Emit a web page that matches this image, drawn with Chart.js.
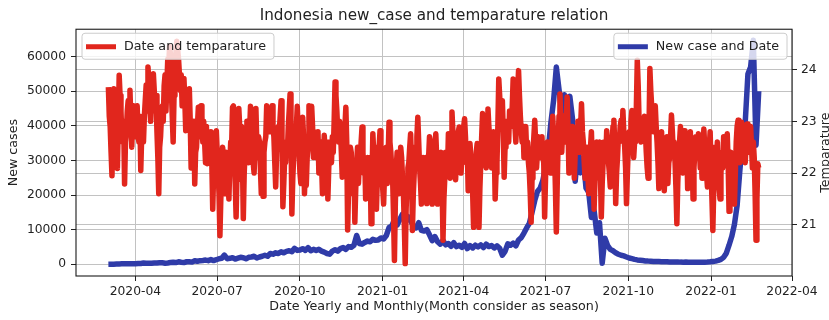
<!DOCTYPE html>
<html>
<head>
<meta charset="utf-8">
<script src="https://cdn.jsdelivr.net/npm/chart.js@4/dist/chart.umd.min.js"></script>
<style>
html,body{margin:0;padding:0;background:#ffffff;}
#wrap{width:829px;height:320px;position:relative;}
canvas{display:block;}
</style>
</head>
<body>
<div id="wrap"><canvas id="chart" width="829" height="320"></canvas></div>
<script>
// ---------------- data ----------------
const titleText = 'Indonesia new_case and temparature relation';
const xAxisTitle = 'Date Yearly and Monthly(Month consider as season)';
const yAxisTitle = 'New cases';
const y1AxisTitle = 'Temparature';
const seriesNames = ['Date and temparature', 'New case and Date'];

// first sample date of both series, and their spacing in days
const firstDate = '2020-03-02';
const tempStepDays = 1;
const caseStepDays = 3;

// daily temperature (right axis) from 2020-03-02
const temperature = [
  23.66,23.1,22.9,22.4,21.95,22.8,23.63,23.2,22.7,23.1,22.09,22.9,23.89,23.5,23.2,22.7,22.6,23.0,21.79,22.6,
  22.8,23.2,23.4,22.9,23.6,23.0,22.5,23.1,23.3,22.8,22.7,23.2,23.3,22.7,22.6,23.1,22.05,22.7,23.0,22.6,
  23.1,23.4,23.7,23.2,24.05,23.8,23.3,23.0,23.6,23.2,23.92,23.6,23.2,23.5,22.8,22.3,21.6,22.5,22.7,23.1,
  23.3,23.0,23.69,23.9,23.2,23.7,24.2,24.0,24.45,24.3,23.6,23.1,22.6,23.5,24.1,24.3,24.55,24.4,24.2,23.9,
  23.6,23.9,23.3,23.6,23.83,23.4,22.82,23.2,23.4,22.9,23.63,23.0,22.1,22.8,22.6,23.0,21.79,22.4,22.5,22.9,
  23.27,22.8,22.7,23.3,23.1,22.6,23.0,22.6,22.2,22.9,22.18,22.6,22.7,22.4,22.8,22.2,21.3,22.0,22.2,22.6,
  22.82,22.4,22.0,21.6,20.79,21.5,21.9,22.5,22.3,21.9,21.6,22.4,22.2,21.8,21.5,22.2,22.6,22.5,23.27,23.3,
  22.4,21.8,21.15,22.0,21.87,23.25,22.9,22.1,22.9,22.3,21.12,22.0,22.4,22.7,23.0,22.5,22.2,22.8,23.29,23.1,
  22.5,22.2,22.0,22.6,23.25,22.6,22.3,22.7,22.6,22.1,21.6,22.2,21.55,22.4,22.6,22.7,23.3,22.9,23.25,22.8,
  23.21,22.8,23.3,22.9,22.7,22.2,21.73,22.4,22.5,22.9,22.8,23.1,23.4,22.7,21.35,21.8,22.3,22.2,22.6,22.4,
  22.9,23.2,23.53,22.9,21.21,21.9,22.3,22.8,22.5,22.9,23.29,22.8,22.4,22.0,21.8,22.5,23.08,22.7,21.6,22.1,
  21.76,22.3,22.5,23.3,22.9,22.5,23.29,22.9,22.3,22.8,22.7,22.3,22.4,22.8,22.0,22.5,22.6,22.2,21.6,22.3,
  22.73,22.4,22.2,22.6,21.5,22.1,22.6,22.3,22.2,22.7,22.4,23.0,23.76,23.5,23.2,22.8,22.6,23.0,22.8,22.4,
  21.92,22.3,22.5,22.9,23.27,22.6,20.9,21.7,22.1,22.5,22.4,21.9,21.6,22.2,21.05,21.7,22.18,22.5,21.8,22.2,
  22.3,22.6,22.89,22.4,22.0,22.3,21.5,22.1,22.3,21.9,21.8,22.3,21.02,21.8,22.76,22.4,22.0,22.5,21.3,21.9,
  22.2,22.5,22.82,22.3,22.0,21.7,21.4,22.0,22.1,22.5,21.8,22.3,22.98,22.6,22.4,22.1,21.9,21.2,20.31,21.4,
  22.1,22.4,21.6,22.0,21.9,22.5,22.3,21.9,21.6,21.0,20.25,21.3,21.8,22.1,22.2,22.5,22.76,22.2,20.89,21.6,
  22.0,22.5,22.3,22.7,23.08,22.6,22.1,21.8,21.4,22.0,22.3,22.0,21.9,22.3,21.41,22.0,22.3,22.7,22.6,22.1,
  21.4,21.9,22.2,22.5,22.76,22.3,21.4,21.9,22.0,22.3,22.4,21.8,20.7,21.5,21.9,22.4,22.3,22.0,22.76,22.4,
  21.9,22.5,23.18,22.8,22.4,22.0,21.87,22.3,22.5,22.8,22.89,22.4,22.0,22.3,22.6,22.9,23.05,22.7,22.2,22.5,
  21.66,22.2,22.57,22.3,22.0,21.6,20.95,21.8,22.1,22.4,22.57,22.0,20.95,21.7,22.2,22.7,23.15,22.9,22.6,22.3,
  22.1,22.6,23.24,22.9,22.6,22.3,22.1,22.6,22.8,22.5,21.5,22.0,22.2,22.9,23.82,23.5,23.1,23.3,23.4,22.8,
  21.92,22.5,22.6,23.0,22.9,22.6,23.2,22.9,23.0,23.3,23.82,23.4,22.9,22.6,23.3,23.6,23.98,23.5,23.1,22.8,
  22.6,22.9,22.3,22.7,22.9,22.4,22.6,22.2,22.0,21.6,21.05,21.9,22.4,22.7,23.02,22.6,22.1,22.4,22.7,22.3,
  22.3,22.6,22.7,22.3,22.2,21.15,21.9,22.4,22.6,22.2,22.2,22.6,22.0,22.5,23.1,22.7,22.4,21.7,20.86,21.8,
  22.6,23.1,23.53,23.0,22.4,22.8,23.1,22.7,22.6,23.0,23.47,22.9,22.0,22.4,22.6,22.9,22.9,22.5,21.9,22.4,
  22.7,22.4,23.0,22.6,22.4,22.9,23.34,22.8,22.6,22.2,21.9,22.4,22.5,22.0,21.6,22.2,22.5,22.8,22.2,21.8,
  21.3,21.9,22.3,22.6,22.0,22.4,22.6,22.0,21.15,21.8,22.2,22.6,22.5,22.3,22.82,22.5,22.2,22.0,21.73,22.3,
  22.6,22.9,23.02,22.5,21.41,22.0,22.3,22.7,22.6,22.9,23.02,22.7,23.21,22.8,22.5,22.1,21.41,22.0,22.5,22.8,
  22.8,23.0,23.21,22.7,22.3,22.6,22.6,23.3,24.18,23.7,23.0,22.7,22.6,23.0,23.0,22.7,23.1,22.8,22.4,22.1,
  21.9,22.8,24.02,23.6,23.3,23.0,22.8,23.1,23.3,22.9,22.6,22.2,21.7,22.1,22.5,22.8,22.1,22.4,21.66,22.1,
  22.4,22.7,21.8,22.2,22.3,22.7,23.12,22.8,22.4,22.6,22.2,21.7,21.02,21.8,22.3,22.6,22.9,22.5,22.3,22.0,
  22.82,22.4,22.2,22.6,21.7,22.2,22.5,22.8,22.0,22.3,21.5,22.1,22.4,22.7,22.7,22.3,22.76,22.5,22.1,22.4,
  21.9,22.4,22.85,22.5,22.3,22.0,21.73,22.2,22.5,22.8,22.1,21.5,20.89,21.7,22.5,22.2,22.2,22.6,21.9,21.7,
  21.5,22.0,22.4,22.1,22.7,22.4,22.2,22.5,22.76,22.2,21.26,21.9,22.4,22.1,21.8,22.2,21.4,22.0,22.6,22.9,
  23.02,22.6,22.2,22.7,22.98,22.6,22.5,22.9,22.2,22.6,22.95,22.7,22.4,22.8,22.9,22.5,22.1,22.6,22.3,21.6,
  20.7,21.5,22.18,22.1
];

// new cases (left axis), one value every 3 days from 2020-03-02
const newCases = [
  2,10,30,60,100,110,105,130,150,130,
  115,190,220,330,280,300,280,350,330,420,
  400,300,380,480,550,480,700,570,490,720,
  700,610,990,850,1040,1100,1200,1030,1330,1050,
  1300,1600,1700,2650,1600,1700,1900,1500,1750,2000,
  1900,1560,2000,2100,2300,1800,2100,2300,2600,2300,
  3100,2900,3300,3100,3600,3300,3700,3900,3600,4600,
  4000,4100,4500,4000,4800,3900,4300,4000,4300,3800,
  3500,3100,2900,3800,4200,3800,4500,4800,4300,5100,
  4900,5500,8300,6000,5800,6300,6700,6500,7200,6900,
  7000,7600,7300,8300,10600,11000,12800,11300,13000,14500,
  12000,13800,12600,11000,10500,12000,9800,9600,10000,8500,
  6800,8000,6500,5800,6900,5600,6000,5200,6200,5100,
  5500,4900,6000,4500,5400,4700,5500,5000,5600,4800,
  5800,5100,5400,4700,5300,4600,2600,3700,5900,5500,
  6100,5300,7000,7700,9000,10500,11800,15000,18400,21000,
  22000,24200,28000,33000,41000,47400,57000,50500,44000,49000,
  45500,48500,42000,24000,34000,26400,30600,22000,20800,13500,
  15500,9000,12000,300,7500,5400,4300,3900,3300,2900,
  2600,2400,2100,1800,1600,1400,1250,1150,1050,950,
  900,880,820,780,760,720,700,720,660,680,
  640,650,610,600,620,580,590,570,580,560,
  570,600,620,700,800,900,1100,1400,2000,3200,
  5500,8000,11500,17000,27000,36000,41000,55000,57000,64700,
  34400,50000
];

const xTickLabels = ['2020-04','2020-07','2020-10','2021-01','2021-04','2021-07','2021-10','2022-01','2022-04'];
const caseTicks = [0,10000,20000,30000,40000,50000,60000];
const tempTicks = [21,22,23,24];

// ---------------- helpers ----------------
const DAY_MS = 86400000;
const ORIGIN = Date.UTC(2020, 2, 1);
function dayOf(s) {
  const p = s.split('-').map(Number);
  return (Date.UTC(p[0], p[1] - 1, p[2] || 1) - ORIGIN) / DAY_MS;
}
const startDay = dayOf(firstDate);
const toPoints = (arr, step) => arr.map((v, i) => ({x: startDay + i * step, y: v}));
const xTickValues = xTickLabels.map(l => dayOf(l + '-01'));

const RED = '#e1261d';
const BLUE = '#2f3ba8';
const FONT = '"DejaVu Sans", "Liberation Sans", sans-serif';
const TXT = '#222222';
const GRID = '#c2c2c2';

const tickFont = {family: FONT, size: 12.3};
const labelFont = {family: FONT, size: 12.7};

function roundRectPath(ctx, x, y, w, h, r) {
  ctx.beginPath();
  ctx.moveTo(x + r, y);
  ctx.lineTo(x + w - r, y);
  ctx.arcTo(x + w, y, x + w, y + r, r);
  ctx.lineTo(x + w, y + h - r);
  ctx.arcTo(x + w, y + h, x + w - r, y + h, r);
  ctx.lineTo(x + r, y + h);
  ctx.arcTo(x, y + h, x, y + h - r, r);
  ctx.lineTo(x, y + r);
  ctx.arcTo(x, y, x + r, y, r);
  ctx.closePath();
}

const decorPlugin = {
  id: 'decor',
  afterDatasetsDraw(chart) {
    const {ctx, chartArea: a} = chart;
    ctx.save();
    // axes frame
    ctx.strokeStyle = '#1a1a1a';
    ctx.lineWidth = 1.1;
    ctx.strokeRect(a.left, a.top, a.right - a.left, a.bottom - a.top);

    // legends
    ctx.font = '12.7px ' + FONT;
    ctx.textBaseline = 'middle';
    ctx.textAlign = 'left';
    const boxTop = a.top + 4, boxH = 26, lineLen = 30, midY = boxTop + boxH / 2;
    const drawLegend = (x0, label, color) => {
      const tw = ctx.measureText(label).width;
      const w = 4 + lineLen + 8 + tw + 8;
      ctx.fillStyle = 'rgba(255,255,255,0.8)';
      ctx.strokeStyle = '#cccccc';
      ctx.lineWidth = 1;
      roundRectPath(ctx, x0, boxTop, w, boxH, 3);
      ctx.fill();
      ctx.stroke();
      ctx.strokeStyle = color;
      ctx.lineWidth = 5;
      ctx.beginPath();
      ctx.moveTo(x0 + 4, midY + 0.5);
      ctx.lineTo(x0 + 4 + lineLen, midY + 0.5);
      ctx.stroke();
      ctx.fillStyle = TXT;
      ctx.fillText(label, x0 + 4 + lineLen + 8, midY);
      return w;
    };
    drawLegend(a.left + 6, seriesNames[0], RED);
    const tw2 = ctx.measureText(seriesNames[1]).width;
    const w2 = 4 + lineLen + 8 + tw2 + 8;
    drawLegend(a.right - 5 - w2, seriesNames[1], BLUE);
    ctx.restore();
  },
  afterDraw(chart) {
    const {ctx, chartArea: a} = chart;
    ctx.save();
    ctx.font = '12.7px ' + FONT;
    ctx.fillStyle = TXT;
    ctx.textAlign = 'center';
    ctx.textBaseline = 'alphabetic';
    ctx.translate(829, (a.top + a.bottom) / 2);
    ctx.rotate(-Math.PI / 2);
    ctx.fillText(y1AxisTitle, 0, 0);
    ctx.restore();
  }
};

new Chart(document.getElementById('chart').getContext('2d'), {
  type: 'line',
  data: {
    datasets: [
      {label: seriesNames[0], data: toPoints(temperature, tempStepDays), yAxisID: 'y1',
       borderColor: RED, backgroundColor: RED, borderWidth: 5.5, pointRadius: 0,
       tension: 0, order: 0, borderJoinStyle: 'round', fill: false},
      {label: seriesNames[1], data: toPoints(newCases, caseStepDays), yAxisID: 'y',
       borderColor: BLUE, backgroundColor: BLUE, borderWidth: 5.5, pointRadius: 0,
       tension: 0, order: 1, borderJoinStyle: 'round', fill: false}
    ]
  },
  options: {
    responsive: false,
    animation: false,
    devicePixelRatio: 1,
    layout: {padding: 0},
    events: [],
    plugins: {
      legend: {display: false},
      tooltip: {enabled: false},
      title: {display: true, text: titleText, fullSize: false, color: TXT,
              font: {family: FONT, size: 15.2, weight: 'normal'},
              padding: {top: 7, bottom: 4}}
    },
    scales: {
      x: {
        type: 'linear', position: 'bottom', min: -35, max: 761,
        afterBuildTicks: s => { s.ticks = xTickValues.map(v => ({value: v})); },
        afterFit: s => { s.height = 44; },
        ticks: {callback: v => xTickLabels[xTickValues.indexOf(v)], font: tickFont, color: TXT,
                maxRotation: 0, autoSkip: false, padding: 3},
        grid: {color: GRID, lineWidth: 1, tickLength: 5, tickColor: '#222', drawTicks: true},
        border: {display: false},
        title: {display: true, text: xAxisTitle, font: labelFont, color: TXT, padding: {top: 0, bottom: 6}}
      },
      y: {
        type: 'linear', position: 'left', min: -3400, max: 67900,
        afterBuildTicks: s => { s.ticks = caseTicks.map(v => ({value: v})); },
        afterFit: s => { s.width = 76; },
        ticks: {callback: v => String(v), font: tickFont, color: TXT, padding: 5},
        grid: {color: GRID, lineWidth: 1, tickLength: 5, tickColor: '#222'},
        border: {display: false},
        title: {display: true, text: yAxisTitle, font: labelFont, color: TXT, padding: {top: 6, bottom: 0}}
      },
      y1: {
        type: 'linear', position: 'right', min: 20.01, max: 24.78,
        afterBuildTicks: s => { s.ticks = tempTicks.map(v => ({value: v})); },
        afterFit: s => { s.width = 37; },
        ticks: {callback: v => String(v), font: tickFont, color: TXT, padding: 4},
        grid: {color: GRID, lineWidth: 1, tickLength: 5, tickColor: '#222', drawOnChartArea: true},
        border: {display: false},
        title: {display: false}
      }
    }
  },
  plugins: [decorPlugin]
});
</script>
</body>
</html>
